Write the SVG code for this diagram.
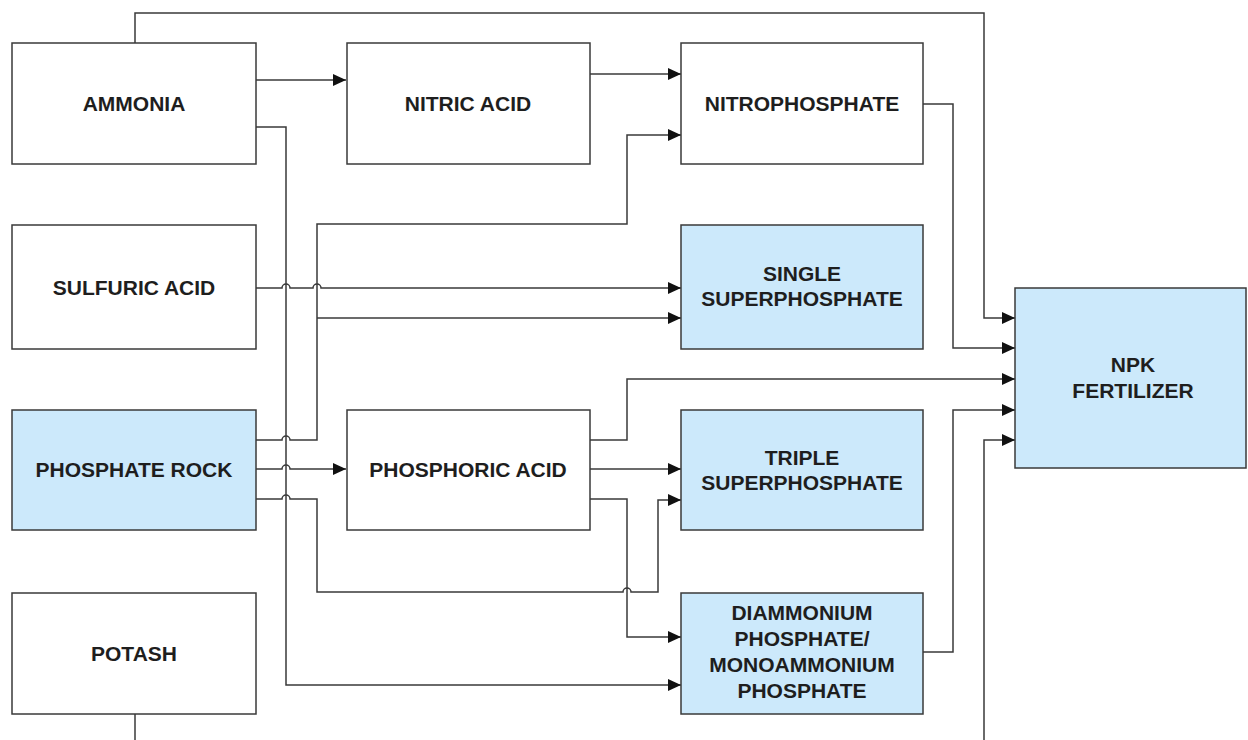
<svg xmlns="http://www.w3.org/2000/svg" width="1248" height="740" viewBox="0 0 1248 740">
<defs>
<style>
.box{fill:#ffffff;stroke:#3a3a3a;stroke-width:1.5}
.blue{fill:#cce9fb}
.t{font-family:"Liberation Sans",Arial,sans-serif;font-weight:bold;font-size:21px;fill:#1e1e1e;text-anchor:middle}
.c{fill:none;stroke:#3a3a3a;stroke-width:1.5}
.a{marker-end:url(#arr)}
</style>
<marker id="arr" markerUnits="userSpaceOnUse" markerWidth="13" markerHeight="12" refX="13" refY="6" orient="auto">
<path d="M0,0 L13,6 L0,12 z" fill="#111"/>
</marker>
</defs>
<rect width="1248" height="740" fill="#ffffff"/>
<g id="connectors">
<path class="c a" d="M256,80 H346"/>
<path class="c a" d="M590,74 H681"/>
<path class="c a" d="M135,43 V13 H984 V318 H1015"/>
<path class="c a" d="M922,104 H953 V348 H1015"/>
<path class="c a" d="M256,127 H286 V685 H681"/>
<path class="c a" d="M256,288 H282 a4,4 0 0 1 8,0 H313 a4,4 0 0 1 8,0 H681"/>
<path class="c a" d="M256,440 H282 a4,4 0 0 1 8,0 H317 V224 H627 V135 H681"/>
<path class="c a" d="M317,318 H681"/>
<path class="c a" d="M256,469 H282 a4,4 0 0 1 8,0 H346"/>
<path class="c a" d="M256,499 H282 a4,4 0 0 1 8,0 H317 V592 H623 a4,4 0 0 1 8,0 H658 V500 H681"/>
<path class="c a" d="M590,440 H627 V379 H1015"/>
<path class="c a" d="M590,469 H681"/>
<path class="c a" d="M590,499 H627 V637 H681"/>
<path class="c a" d="M922,652 H953 V410 H1015"/>
<path class="c" d="M135,714 V740"/>
<path class="c a" d="M984,740 V440 H1015"/>
</g>
<g id="ammonia"><rect class="box" x="12" y="43" width="244" height="121"/><text class="t" x="134" y="111">AMMONIA</text></g>
<g id="nitric-acid"><rect class="box" x="347" y="43" width="243" height="121"/><text class="t" x="468" y="111">NITRIC ACID</text></g>
<g id="nitrophosphate"><rect class="box" x="681" y="43" width="242" height="121"/><text class="t" x="802" y="111">NITROPHOSPHATE</text></g>
<g id="sulfuric-acid"><rect class="box" x="12" y="225" width="244" height="124"/><text class="t" x="134" y="295">SULFURIC ACID</text></g>
<g id="single-superphosphate"><rect class="box blue" x="681" y="225" width="242" height="124"/><text class="t" x="802" y="281">SINGLE</text><text class="t" x="802" y="306">SUPERPHOSPHATE</text></g>
<g id="phosphate-rock"><rect class="box blue" x="12" y="410" width="244" height="120"/><text class="t" x="134" y="477">PHOSPHATE ROCK</text></g>
<g id="phosphoric-acid"><rect class="box" x="347" y="410" width="243" height="120"/><text class="t" x="468" y="477">PHOSPHORIC ACID</text></g>
<g id="triple-superphosphate"><rect class="box blue" x="681" y="410" width="242" height="120"/><text class="t" x="802" y="465">TRIPLE</text><text class="t" x="802" y="490">SUPERPHOSPHATE</text></g>
<g id="potash"><rect class="box" x="12" y="593" width="244" height="121"/><text class="t" x="134" y="661">POTASH</text></g>
<g id="dap-map"><rect class="box blue" x="681" y="593" width="242" height="121"/><text class="t" x="802" y="620">DIAMMONIUM</text><text class="t" x="802" y="646">PHOSPHATE/</text><text class="t" x="802" y="672">MONOAMMONIUM</text><text class="t" x="802" y="698">PHOSPHATE</text></g>
<g id="npk-fertilizer"><rect class="box blue" x="1015" y="288" width="231" height="180"/><text class="t" x="1133" y="372">NPK</text><text class="t" x="1133" y="398">FERTILIZER</text></g>
</svg>
